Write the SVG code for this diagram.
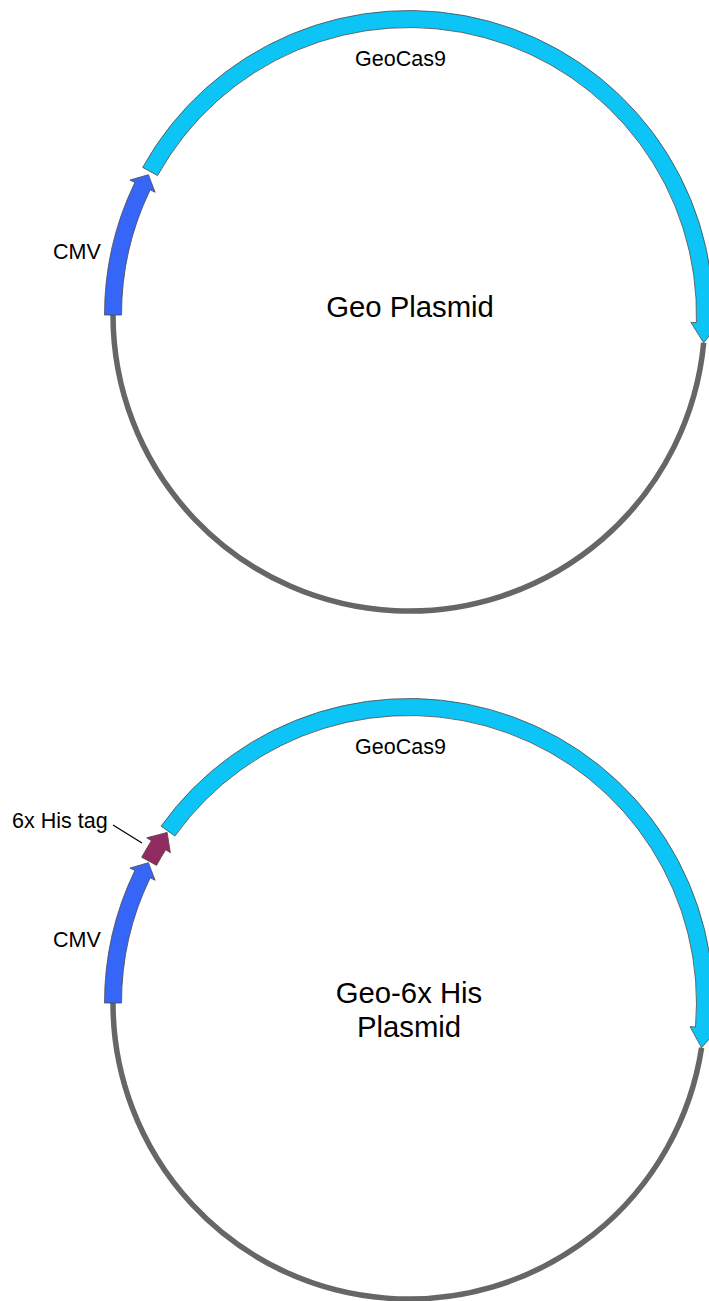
<svg xmlns="http://www.w3.org/2000/svg" width="709" height="1301" viewBox="0 0 709 1301">
<style>
  text { font-family: "Liberation Sans", Arial, Helvetica, sans-serif; fill: #000; }
  .lbl { font-size: 21.5px; }
  .title { font-size: 29.3px; text-anchor: middle; }
  .bb { stroke: #666; stroke-width: 5.5; fill: none; }
  .cmv { fill: #3566f7; stroke: #4a4a4a; stroke-width: 0.8; }
  .cas { fill: #0cc5f6; stroke: #4a4a4a; stroke-width: 0.8; }
  .his { fill: #922b61; stroke: #4a4a4a; stroke-width: 0.8; }
  .lead { stroke: #000; stroke-width: 1.2; fill: none; }
</style>
<rect width="709" height="1301" fill="#fff"/>

<g id="plasmid1">
  <g id="p1-backbone"><path class="bb" d="M703.69,342.86 A296,296 0 0 1 113,315"/></g>
  <g id="p1-cmv"><path class="cmv" d="M104.5,315 A304.5,304.5 0 0 1 134.85,182.47 L129.9,180.08 L148.38,174.67 L155.11,192.27 L150.16,189.87 A287.5,287.5 0 0 0 121.5,315 Z"/></g>
  <g id="p1-geocas9"><path class="cas" d="M142.68,167.38 A304.5,304.5 0 0 1 713.4,322.97 L718.89,323.12 L703.69,342.86 L690.9,322.38 L696.4,322.53 A287.5,287.5 0 0 0 157.55,175.62 Z"/></g>
  <text class="lbl" x="53" y="259">CMV</text>
  <text class="lbl" x="400.5" y="66" text-anchor="middle">GeoCas9</text>
  <text class="title" x="410" y="317">Geo Plasmid</text>
</g>

<g id="plasmid2">
  <g id="p2-backbone"><path class="bb" d="M701.59,1047.77 A296,296 0 0 1 113,1003"/></g>
  <g id="p2-cmv"><path class="cmv" d="M104.5,1003 A304.5,304.5 0 0 1 134.85,870.47 L129.9,868.08 L148.38,862.67 L155.11,880.27 L150.16,877.87 A287.5,287.5 0 0 0 121.5,1003 Z"/></g>
  <g id="p2-his"><path class="his" d="M141.65,857.24 A304.5,304.5 0 0 1 151.34,840.75 L146.68,837.82 L167.13,832.38 L170.37,852.74 L165.72,849.81 A287.5,287.5 0 0 0 156.58,865.38 Z"/></g>
  <g id="p2-geocas9"><path class="cas" d="M161.1,826.18 A304.5,304.5 0 0 1 712.43,1028.48 L717.91,1028.94 L701.59,1047.77 L690.01,1026.6 L695.49,1027.06 A287.5,287.5 0 0 0 174.94,836.05 Z"/></g>
  <g id="connectors"><path class="lead" d="M113,825 L142,843"/></g>
  <text class="lbl" x="12" y="828">6x His tag</text>
  <text class="lbl" x="53" y="947">CMV</text>
  <text class="lbl" x="400.5" y="754" text-anchor="middle">GeoCas9</text>
  <text class="title" x="409" y="1003">Geo-6x His</text>
  <text class="title" x="409" y="1037">Plasmid</text>
</g>
</svg>
